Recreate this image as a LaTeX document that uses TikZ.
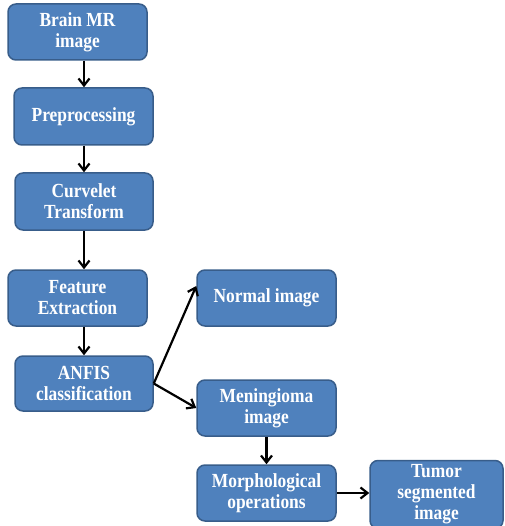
\documentclass[tikz,border=0pt]{standalone}
\usepackage{fontspec}
\setmainfont[FakeStretch=0.87]{Liberation Serif}
\usetikzlibrary{arrows.meta,calc}
\definecolor{boxfill}{HTML}{4F81BD}
\definecolor{boxline}{HTML}{385D8A}
\tikzset{
  blk/.style={draw=boxline, line width=1.5pt, fill=boxfill, rounded corners=8pt,
    text=white, font=\fontsize{20}{21}\selectfont\bfseries, align=center,
    inner sep=0pt, minimum width=139pt, minimum height=56pt},
  arr/.style={draw=black, line width=2.2pt, -{Straight Barb[length=7pt,width=11pt,line width=2.2pt]}}
}
\begin{document}
\begin{tikzpicture}[x=1pt,y=-1pt]
\useasboundingbox (0,0) rectangle (504,526);
\node[blk] (b1) at (77.5,32) {Brain MR\\image};
\node[blk, minimum height=57pt] (b2) at (83.5,116.5) {Preprocessing};
\node[blk, minimum width=138pt, minimum height=57pt] (b3) at (84,201.5) {Curvelet\\Transform};
\node[blk] (b4) at (77.5,298) {Feature\\Extraction};
\node[blk, minimum width=138pt, minimum height=55pt] (b5) at (84,383.5) {ANFIS\\classification};
\node[blk] (nor) at (266.5,298) {Normal image};
\node[blk] (men) at (266.5,408) {Meningioma\\image};
\node[blk] (mor) at (266.5,493) {Morphological\\operations};
\node[blk, minimum width=133pt, minimum height=68pt] (tum) at (436.5,494.5) {Tumor\\segmented\\image};
\draw[arr] (b1.south -| 84,0) -- (b2.north -| 84,0);
\draw[arr] (b2.south -| 84,0) -- (b3.north -| 84,0);
\draw[arr] (b3.south -| 84,0) -- (b4.north -| 84,0);
\draw[arr] (b4.south -| 84,0) -- (b5.north -| 84,0);
\draw[arr] (b5.east) -- ([yshift=12pt]nor.west);
\draw[arr] (b5.east) -- (men.west);
\draw[arr] (men.south) -- (mor.north);
\draw[arr] (mor.east) -- (tum.west |- mor.east);
\end{tikzpicture}
\end{document}
